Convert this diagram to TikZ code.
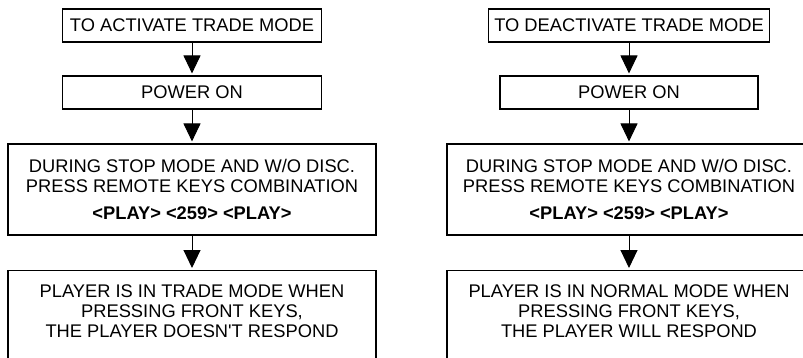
\documentclass[tikz,border=0pt]{standalone}
\usepackage{fontspec}
\setmainfont{Liberation Sans}
\usetikzlibrary{arrows.meta, positioning}

\begin{document}
\begin{tikzpicture}[x=1pt, y=-1pt,
    box/.style={draw, line width=1.1pt, inner sep=0pt, minimum height=33pt,
      align=center, font=\fontsize{18.3}{20}\selectfont},
    txt/.style={inner sep=0pt, align=center, font=\fontsize{18.3}{20}\selectfont},
    flow/.style={-{Triangle[width=17pt, length=18pt]}, line width=1pt, shorten >=2pt}]
  \useasboundingbox (0,0) rectangle (803,358);
  \clip (0,0) rectangle (803,358);

  % Left: activate trade mode
  \begin{scope}[shift={(192,0)}]
    \node[box, minimum width=259pt] (act1) at (0,25.5) {TO ACTIVATE TRADE MODE};
    \node[box, minimum width=259pt] (act2) at (0,92.5) {POWER ON};
    \node[box, minimum width=368pt, minimum height=91pt] (act3) at (0,189.5)
      {DURING STOP MODE AND W/O DISC.\\PRESS REMOTE KEYS COMBINATION\\[7pt]
       \textbf{<PLAY> <259> <PLAY>}};
    % Last box runs off the page
    \node[box, minimum width=368pt, minimum height=120pt, anchor=north] (act4) at (0,270) {};
    \node[txt, below=15pt of act4.north] (act4txt)
      {PLAYER IS IN TRADE MODE WHEN\\PRESSING FRONT KEYS,\\THE PLAYER DOESN\textquotesingle T RESPOND};

    \draw[flow] (act1) -- (act2);
    \draw[flow] (act2) -- (act3);
    \draw[flow] (act3) -- (act4);
  \end{scope}

  % Right: deactivate trade mode
  \begin{scope}[shift={(629,0)}]
    \node[box, minimum width=281pt] (deact1) at (0,25.5) {TO DEACTIVATE TRADE MODE};
    \node[box, minimum width=258pt] (deact2) at (0,92.5) {POWER ON};
    \node[box, minimum width=364pt, minimum height=91pt] (deact3) at (0,189.5)
      {DURING STOP MODE AND W/O DISC.\\PRESS REMOTE KEYS COMBINATION\\[7pt]
       \textbf{<PLAY> <259> <PLAY>}};
    % Last box runs off the page
    \node[box, minimum width=364pt, minimum height=120pt, anchor=north] (deact4) at (0,270) {};
    \node[txt, below=15pt of deact4.north] (deact4txt)
      {PLAYER IS IN NORMAL MODE WHEN\\PRESSING FRONT KEYS,\\THE PLAYER WILL RESPOND};

    \draw[flow] (deact1) -- (deact2);
    \draw[flow] (deact2) -- (deact3);
    \draw[flow] (deact3) -- (deact4);
  \end{scope}
\end{tikzpicture}
\end{document}
